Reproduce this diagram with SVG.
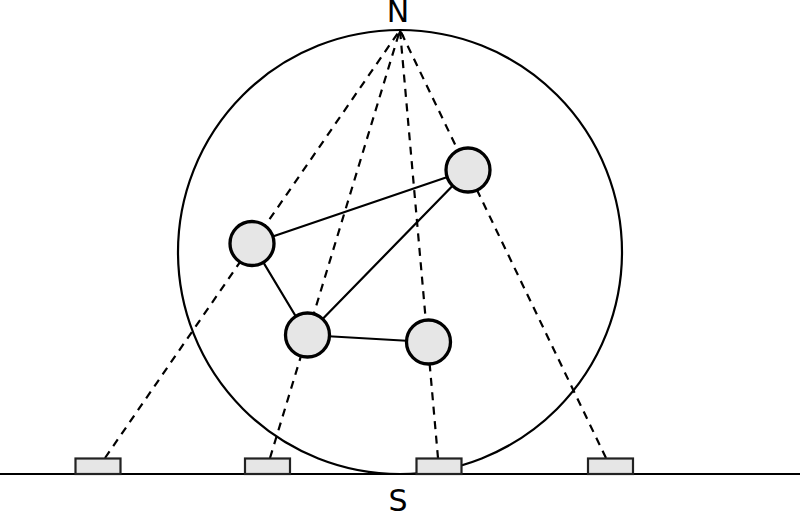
<svg xmlns="http://www.w3.org/2000/svg" width="800" height="511" viewBox="0 0 800 511">
<style>
.l{fill:none;stroke:#000;stroke-width:2.200}
.d{fill:none;stroke:#000;stroke-width:2.200;stroke-dasharray:8 6.500}
.n{fill:#e6e6e6;stroke:#000;stroke-width:3.300}
.r{fill:#e6e6e6;stroke:#222;stroke-width:2.200}
text{font-family:"DejaVu Sans",sans-serif;font-size:30px;text-anchor:middle;fill:#000}
</style>
<defs><marker id="a" markerWidth="10" markerHeight="10" refX="7" refY="4" orient="auto" markerUnits="userSpaceOnUse"><path d="M0 0L8 4L0 8L2 4Z" fill="#000"/></marker></defs>
<g id="connectors">
<circle class="l" cx="400" cy="252" r="222"/>
<path class="l" d="M0 474H800"/>
<path class="d" d="M105 458L400 30"/>
<path class="d" d="M270 458L400 30"/>
<path class="d" d="M438 458L400 30" marker-end="url(#a)"/>
<path class="d" d="M606 458L400 30"/>
<path class="l" d="M252 243.500L468 170M468 170L307 335M252 243.500L307 335M307 335L428 342"/>
</g>
<g id="node-a"><circle class="n" cx="252" cy="243.500" r="22"/></g>
<g id="node-b"><circle class="n" cx="468" cy="170" r="22"/></g>
<g id="node-c"><circle class="n" cx="307.500" cy="335" r="22"/></g>
<g id="node-d"><circle class="n" cx="428.500" cy="342" r="22"/></g>
<g id="sensor-1"><rect class="r" x="75.500" y="458.500" width="45" height="15.500"/></g>
<g id="sensor-2"><rect class="r" x="245" y="458.500" width="45" height="15.500"/></g>
<g id="sensor-3"><rect class="r" x="416.500" y="458.500" width="45" height="15.500"/></g>
<g id="sensor-4"><rect class="r" x="588" y="458.500" width="45" height="15.500"/></g>
<g id="label-n"><text x="398" y="21.500">N</text></g>
<g id="label-s"><text x="398" y="511">S</text></g>
</svg>
